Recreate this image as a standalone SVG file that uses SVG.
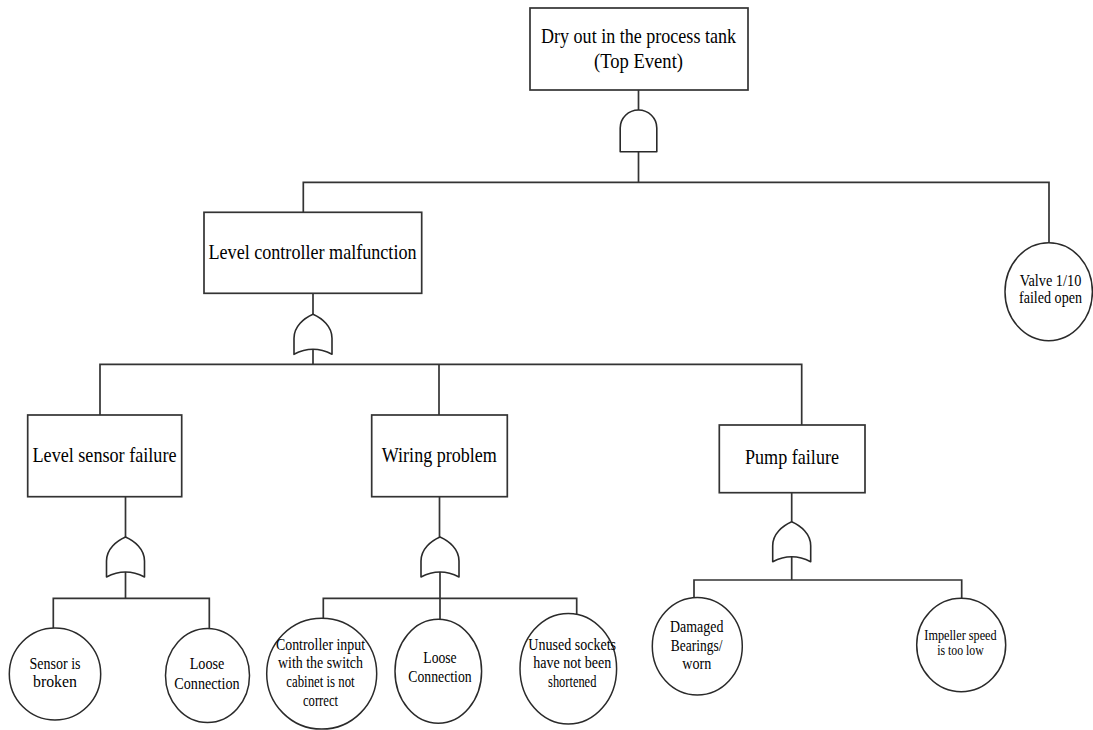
<svg xmlns="http://www.w3.org/2000/svg" width="1093" height="730" viewBox="0 0 1093 730">
  <style>
    .box { fill: #fff; stroke: #333; stroke-width: 1.7; }
    .ev { fill: #fff; stroke: #2a2a2a; stroke-width: 1.5; }
    .gate { fill: #fff; stroke: #2a2a2a; stroke-width: 1.6; stroke-linejoin: round; }
    .wire { fill: none; stroke: #333; stroke-width: 1.7; }
    .lbl text { fill: #000; text-anchor: middle; }
    .h { font-size: 22px; }
    .s { font-size: 16.5px; }
    .xs { font-size: 15px; }
  </style>
  <defs>
    <!-- OR gate, origin at its apex -->
    <path id="orGate" class="gate" d="M -19,40 L -19,24 C -19,12 -9,4 0,0 C 9,4 19,12 19,24 L 19,40 Q 0,30 -19,40 Z"/>
    <!-- AND gate, origin at top centre -->
    <path id="andGate" class="gate" d="M -18.3,41.7 L -18.3,18 A 18.3,18 0 0 1 18.3,18 L 18.3,41.7 Z"/>
  </defs>

  <!-- connectors -->
  <g id="connectors" class="wire">
    <path d="M 638.5,90 V 110"/>
    <path d="M 638.5,151.7 V 182.3"/>
    <path d="M 303.3,212.3 V 182.3 H 1049 V 242.7"/>
    <path d="M 313,293.3 V 314.3"/>
    <path d="M 313,349 V 364.3"/>
    <path d="M 100,415 V 364.3 H 801.7 V 425"/>
    <path d="M 439,364.3 V 415"/>
    <path d="M 125.5,496.7 V 537"/>
    <path d="M 125.5,572 V 598.3"/>
    <path d="M 53.3,628.3 V 598.3 H 209.3 V 629"/>
    <path d="M 439.5,496.7 V 537"/>
    <path d="M 440,572 V 619.3"/>
    <path d="M 323.3,618.5 V 598.3 H 576.7 V 614.5"/>
    <path d="M 791.7,492.7 V 521.7"/>
    <path d="M 791.7,556.7 V 580"/>
    <path d="M 694,598 V 580 H 961.7 V 598.3"/>
  </g>

  <!-- gates -->
  <g id="gates">
    <use href="#andGate" transform="translate(638.5,110)"/>
    <use href="#orGate" transform="translate(313,314.3)"/>
    <use href="#orGate" transform="translate(125.5,537)"/>
    <use href="#orGate" transform="translate(440,537)"/>
    <use href="#orGate" transform="translate(791.7,521.7)"/>
  </g>

  <g class="lbl" font-family="'Liberation Serif', 'Times New Roman', serif">
  <!-- intermediate events -->
  <g id="top-event">
    <rect class="box" x="530" y="8" width="218" height="82"/>
    <text class="h" x="638.5" y="43.3" textLength="195" lengthAdjust="spacingAndGlyphs">Dry out in the process tank</text>
    <text class="h" x="638.5" y="68" textLength="89" lengthAdjust="spacingAndGlyphs">(Top Event)</text>
  </g>
  <g id="level-controller">
    <rect class="box" x="204" y="212.3" width="217.7" height="81"/>
    <text class="h" x="312.5" y="259.3" textLength="208" lengthAdjust="spacingAndGlyphs">Level controller malfunction</text>
  </g>
  <g id="level-sensor">
    <rect class="box" x="27.7" y="415" width="154" height="81.7"/>
    <text class="h" x="104.5" y="461.7" textLength="144" lengthAdjust="spacingAndGlyphs">Level sensor failure</text>
  </g>
  <g id="wiring">
    <rect class="box" x="371.7" y="415" width="135.6" height="81.7"/>
    <text class="h" x="439.3" y="461.7" textLength="115" lengthAdjust="spacingAndGlyphs">Wiring problem</text>
  </g>
  <g id="pump">
    <rect class="box" x="719.3" y="425" width="145.7" height="67.7"/>
    <text class="h" x="792" y="464" textLength="94" lengthAdjust="spacingAndGlyphs">Pump failure</text>
  </g>

  <!-- basic events -->
  <g id="valve">
    <ellipse class="ev" cx="1048.7" cy="291.7" rx="43.7" ry="49"/>
    <text class="s" x="1050.5" y="285.7" textLength="61.7" lengthAdjust="spacingAndGlyphs">Valve 1/10</text>
    <text class="s" x="1050.5" y="303.3" textLength="63" lengthAdjust="spacingAndGlyphs">failed open</text>
  </g>
  <g id="sensor-broken">
    <ellipse class="ev" cx="55" cy="674" rx="45.7" ry="46"/>
    <text class="s" x="55" y="669.3" textLength="51" lengthAdjust="spacingAndGlyphs">Sensor is</text>
    <text class="s" x="55" y="686.7" textLength="44" lengthAdjust="spacingAndGlyphs">broken</text>
  </g>
  <g id="loose-1">
    <ellipse class="ev" cx="207.5" cy="675.5" rx="42" ry="47"/>
    <text class="s" x="207" y="669.3" textLength="34.7" lengthAdjust="spacingAndGlyphs">Loose</text>
    <text class="s" x="207" y="689" textLength="65.3" lengthAdjust="spacingAndGlyphs">Connection</text>
  </g>
  <g id="controller-input">
    <ellipse class="ev" cx="321.7" cy="673.7" rx="55" ry="55.4"/>
    <text class="s" x="320.5" y="650" textLength="89" lengthAdjust="spacingAndGlyphs">Controller input</text>
    <text class="s" x="320.5" y="668.3" textLength="85" lengthAdjust="spacingAndGlyphs">with the switch</text>
    <text class="s" x="320.5" y="687.3" textLength="68.3" lengthAdjust="spacingAndGlyphs">cabinet is not</text>
    <text class="s" x="320.5" y="706" textLength="35" lengthAdjust="spacingAndGlyphs">correct</text>
  </g>
  <g id="loose-2">
    <ellipse class="ev" cx="438.3" cy="671.3" rx="43.3" ry="52"/>
    <text class="s" x="440" y="663.3" textLength="33.3" lengthAdjust="spacingAndGlyphs">Loose</text>
    <text class="s" x="440" y="682.3" textLength="63.3" lengthAdjust="spacingAndGlyphs">Connection</text>
  </g>
  <g id="unused-sockets">
    <ellipse class="ev" cx="568.3" cy="668.7" rx="48.3" ry="55.3"/>
    <text class="s" x="572.2" y="650" textLength="87.7" lengthAdjust="spacingAndGlyphs">Unused sockets</text>
    <text class="s" x="572.2" y="668.3" textLength="78" lengthAdjust="spacingAndGlyphs">have not been</text>
    <text class="s" x="572.2" y="686.7" textLength="48.3" lengthAdjust="spacingAndGlyphs">shortened</text>
  </g>
  <g id="bearings">
    <ellipse class="ev" cx="697.3" cy="646.3" rx="45" ry="48.7"/>
    <text class="s" x="696.7" y="632.3" textLength="53.3" lengthAdjust="spacingAndGlyphs">Damaged</text>
    <text class="s" x="696.7" y="650.7" textLength="51.7" lengthAdjust="spacingAndGlyphs">Bearings/</text>
    <text class="s" x="696.7" y="669" textLength="29" lengthAdjust="spacingAndGlyphs">worn</text>
  </g>
  <g id="impeller">
    <ellipse class="ev" cx="961.2" cy="645" rx="44.5" ry="46.7"/>
    <text class="xs" x="960.5" y="640" textLength="72.3" lengthAdjust="spacingAndGlyphs">Impeller speed</text>
    <text class="xs" x="960.5" y="655" textLength="46.7" lengthAdjust="spacingAndGlyphs">is too low</text>
  </g>
  </g>
</svg>
